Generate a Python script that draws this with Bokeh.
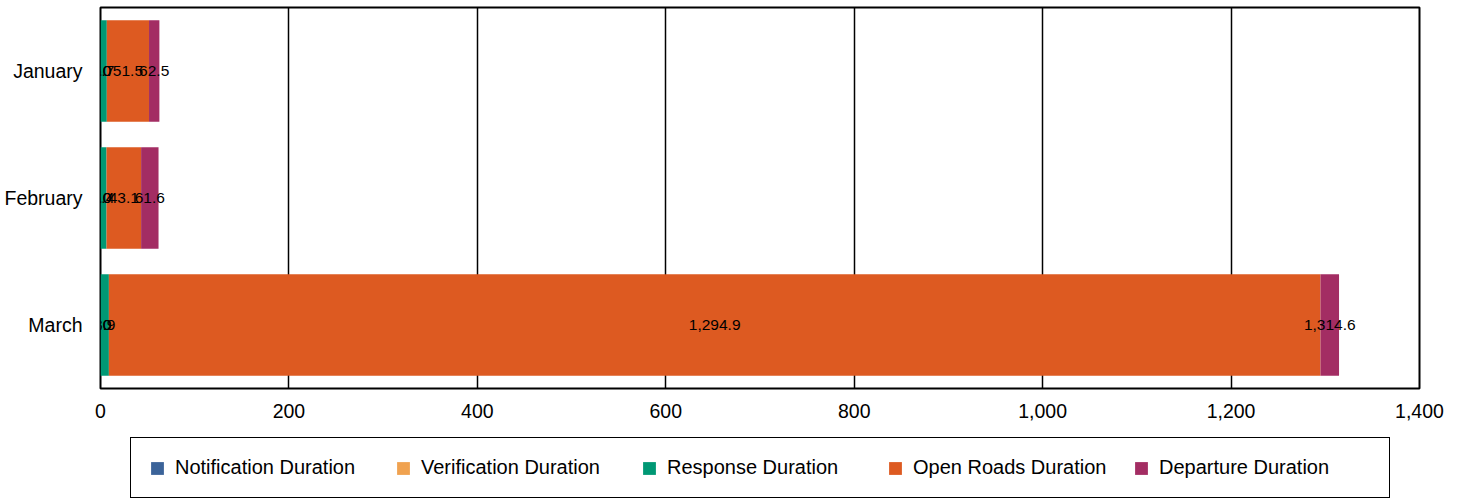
import numpy as np
from bokeh.plotting import figure
from bokeh.layouts import column
from bokeh.models import (ColumnDataSource, FactorRange, Range1d, Legend, LegendItem,
                          NumeralTickFormatter, FixedTicker)
from bokeh.core.properties import value
from bokeh.embed import file_html
from bokeh.resources import INLINE

months = ["January", "February", "March"]
notification = [0.0, 0.0, 0.0]
verification = [0.0, 0.0, 0.0]
response = [6.7, 6.4, 8.9]
open_roads = [44.8, 36.7, 1286.0]
departure = [11.0, 18.5, 19.7]

series_names = ["Notification Duration", "Verification Duration", "Response Duration",
                "Open Roads Duration", "Departure Duration"]
series_keys = ["notification", "verification", "response", "open_roads", "departure"]
colors = ["#3B6399", "#F0A250", "#009874", "#DD5A21", "#A32D63"]
x_ticks = [0, 200, 400, 600, 800, 1000, 1200, 1400]

FONT = "Liberation Sans"

data = dict(month=months, notification=notification, verification=verification,
            response=response, open_roads=open_roads, departure=departure)
source = ColumnDataSource(data)

p = figure(frame_width=1319, frame_height=381, output_backend="svg", toolbar_location=None,
           y_range=FactorRange(factors=months[::-1]), x_range=Range1d(0, 1400),
           min_border_left=100, min_border_right=26, min_border_top=7, min_border_bottom=42)

renderers = p.hbar_stack(series_keys, y="month", height=0.8, color=colors, source=source,
                         line_color=None)

# cumulative labels at segment centers
vals = np.array([notification, verification, response, open_roads, departure])
cum = np.cumsum(vals, axis=0)
left = cum - vals
lx, ly, lt = [], [], []
for i in range(vals.shape[0]):
    for j, m in enumerate(months):
        lx.append((left[i, j] + cum[i, j]) / 2)
        ly.append(m)
        lt.append(f"{cum[i, j]:,.1f}")
p.text(x=lx, y=ly, text=lt, text_align="center", text_baseline="middle",
       text_font=value(FONT), text_font_size="15.5px", text_color="black")

p.outline_line_color = "black"
p.outline_line_width = 2
p.outline_line_alpha = 1.0

p.xgrid.ticker = FixedTicker(ticks=x_ticks)
p.xgrid.grid_line_color = "black"
p.xgrid.grid_line_width = 1.5
p.ygrid.grid_line_color = None

p.xaxis.ticker = FixedTicker(ticks=x_ticks)
p.xaxis.formatter = NumeralTickFormatter(format="0,0")
for ax in (p.xaxis, p.yaxis):
    ax.axis_line_color = None
    ax.major_tick_line_color = None
    ax.minor_tick_line_color = None
    ax.major_label_text_font = FONT
    ax.major_label_text_font_size = "19.5px"
    ax.major_label_text_color = "black"
p.xaxis.major_label_standoff = 9
p.yaxis.major_label_standoff = 12

# legend drawn in its own strip below the chart; proxy renderers reuse the series data,
# but this strip's factor range does not contain the months, so no bars are drawn here
lf = figure(frame_width=1319, frame_height=68, output_backend="svg", toolbar_location=None,
            min_border_left=100, min_border_right=26, min_border_top=0, min_border_bottom=0,
            x_range=Range1d(5000, 5001), y_range=FactorRange(factors=["legend"]))
lf.axis.visible = False
lf.grid.visible = False
lf.outline_line_color = None
leg_renderers = lf.hbar_stack(series_keys, y="month", height=0.8, color=colors,
                              source=source, line_color=None)

items = [LegendItem(label=n, renderers=[r]) for n, r in zip(series_names, leg_renderers)]
legend = Legend(items=items, orientation="horizontal", location=(30, 0), margin=0,
                padding=18, spacing=8, label_width=212, glyph_width=16, glyph_height=16,
                label_height=20, label_standoff=10,
                label_text_font=FONT, label_text_font_size="20px", label_text_color="black",
                border_line_color="black", border_line_width=1.5, border_line_alpha=1.0,
                background_fill_alpha=1.0)
lf.add_layout(legend, "center")

layout = column(p, lf, spacing=0)
open("out.html", "w").write(file_html(layout, INLINE))
